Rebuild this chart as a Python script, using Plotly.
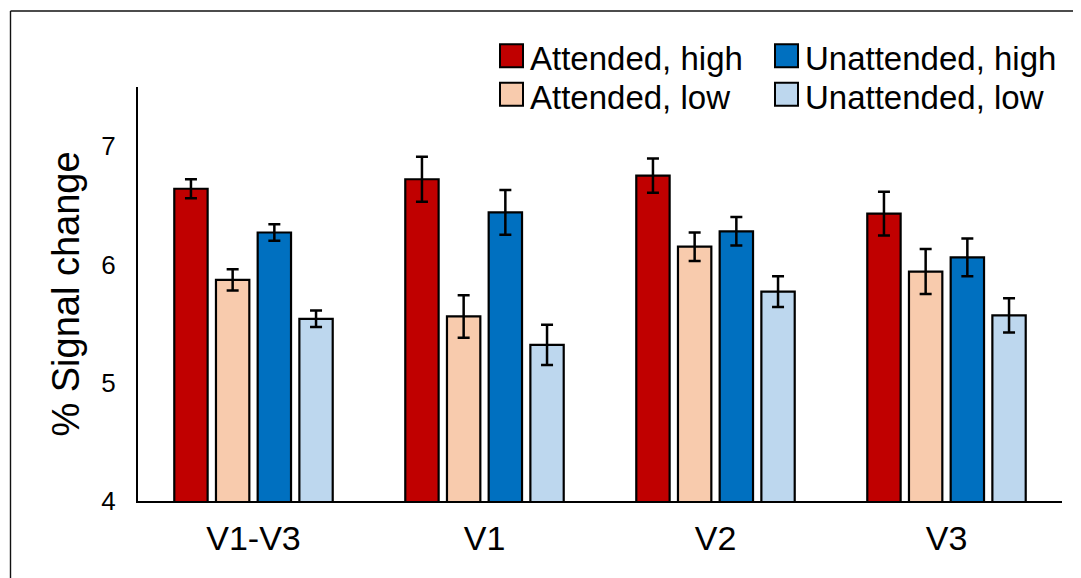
import plotly.graph_objects as go

categories = ["V1-V3", "V1", "V2", "V3"]
series_names = ["Attended, high", "Attended, low", "Unattended, high", "Unattended, low"]
att_high = [6.64, 6.72, 6.75, 6.43]
att_high_err = [0.08, 0.19, 0.145, 0.185]
att_low = [5.87, 5.56, 6.15, 5.94]
att_low_err = [0.09, 0.18, 0.12, 0.19]
unatt_high = [6.27, 6.44, 6.28, 6.06]
unatt_high_err = [0.07, 0.19, 0.12, 0.16]
unatt_low = [5.54, 5.32, 5.77, 5.57]
unatt_low_err = [0.07, 0.17, 0.13, 0.145]
colors = ["#C00000", "#F8CBAD", "#0070C0", "#BDD7EE"]
y_ticks = [4, 5, 6, 7]

values = [att_high, att_low, unatt_high, unatt_low]
errors = [att_high_err, att_low_err, unatt_high_err, unatt_low_err]

FONT = "Liberation Sans, Arial, sans-serif"

fig = go.Figure()
for name, vals, errs, col in zip(series_names, values, errors, colors):
    fig.add_trace(go.Bar(
        x=categories, y=vals, name=name,
        marker=dict(color=col, line=dict(color="black", width=2.2)),
        error_y=dict(type="data", array=errs, visible=True, color="black",
                     thickness=2.5, width=6),
        showlegend=False,
    ))

# page offset of 8px (body margin) -> screen coordinates
OFF = 8
W, H = 1081, 578
L, R, T, B = 130, 27, 79, 85
pw, ph = W - L - R, H - T - B


def fx(xs):
    return ((xs - OFF) - L) / pw


def fy(ys):
    return (H - B - (ys - OFF)) / ph


# manual legend: swatch positions (screen px) in a 2x2 grid
leg_cols = [500, 775]
leg_rows = [55.7, 94.2]
sw = 23
leg_pos = [(0, 0), (0, 1), (1, 0), (1, 1)]  # (col, row) per series

shapes = [
    dict(type="line", xref="paper", yref="paper",
         x0=fx(10.5), x1=fx(1090), y0=fy(11), y1=fy(11),
         line=dict(color="#111", width=1.4)),
    dict(type="line", xref="paper", yref="paper",
         x0=fx(10.5), x1=fx(10.5), y0=fy(11), y1=fy(590),
         line=dict(color="#111", width=1.4)),
]
annotations = []
for name, col, (c, r) in zip(series_names, colors, leg_pos):
    x0 = leg_cols[c]
    yc = leg_rows[r]
    shapes.append(dict(type="rect", xref="paper", yref="paper",
                       x0=fx(x0), x1=fx(x0 + sw), y0=fy(yc - sw / 2), y1=fy(yc + sw / 2),
                       fillcolor=col, line=dict(color="black", width=2)))
    annotations.append(dict(text=name, xref="paper", yref="paper",
                            x=fx(x0 + sw + 5), y=fy(yc + 3), xanchor="left", yanchor="middle",
                            showarrow=False, font=dict(size=33, family=FONT, color="black")))

fig.update_layout(
    width=W, height=H,
    margin=dict(l=L, r=R, t=T, b=B),
    paper_bgcolor="white", plot_bgcolor="white",
    font=dict(family=FONT, color="black"),
    barmode="group", bargap=0.278, bargroupgap=0.2,
    showlegend=False,
    xaxis=dict(showline=True, linecolor="black", linewidth=2, ticks="",
               showgrid=False, tickfont=dict(size=34, family=FONT),
               ticklabelstandoff=6),
    yaxis=dict(range=[4, 7.5], tickvals=y_ticks, showline=True, linecolor="black",
               linewidth=2, ticks="", showgrid=False, zeroline=False,
               tickfont=dict(size=26, family=FONT), ticklabelstandoff=15,
               title=dict(text="% Signal change", font=dict(size=38, family=FONT),
                          standoff=10)),
    shapes=shapes,
    annotations=annotations,
)

fig.write_html("out.html")
